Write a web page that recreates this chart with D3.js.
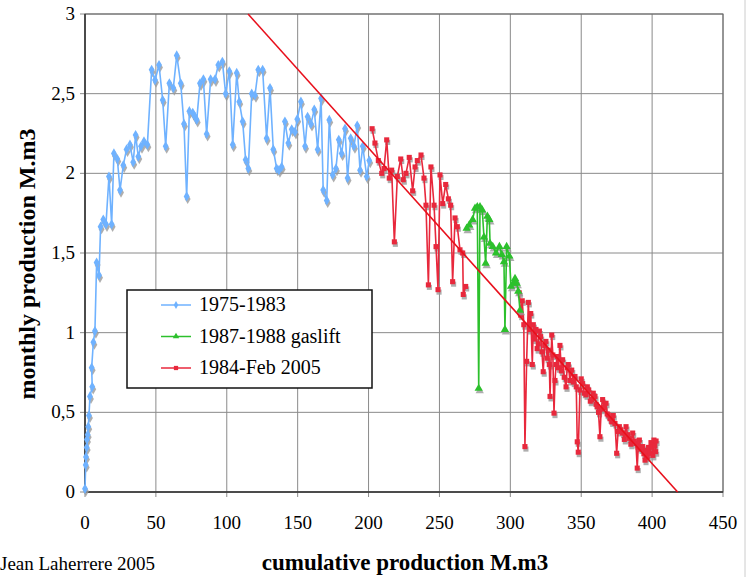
<!DOCTYPE html>
<html>
<head>
<meta charset="utf-8">
<script src="https://cdn.jsdelivr.net/npm/d3@7"></script>
<style>
  body { margin: 0; background: #fff; }
  svg text { font-family: "Liberation Serif", "Times New Roman", Times, "DejaVu Serif", serif; }
</style>
</head>
<body>
<div id="chart"></div>
<script>
// x = cumulative production (M.m3), y = monthly production (M.m3)
const xTicks = [0, 50, 100, 150, 200, 250, 300, 350, 400, 450];
const yTicks = [0, 0.5, 1, 1.5, 2, 2.5, 3];

const blue = [
  [0, 0.02], [0.5, 0.17], [0.7, 0.22], [1.2, 0.28], [1.4, 0.33], [1.9, 0.36], [2.3, 0.41],
  [2.8, 0.48], [3.5, 0.60], [5.1, 0.66], [4.7, 0.78], [5.9, 0.94], [7, 1.01], [8.2, 1.44],
  [9.9, 1.36], [11, 1.665], [12.9, 1.71], [14.8, 1.68], [16.9, 1.98], [18.8, 1.68],
  [20.4, 2.125], [22.8, 2.09], [24.7, 1.895], [27, 2.05], [29.3, 2.15], [31.7, 2.18],
  [34, 2.07], [35.7, 2.24], [37.6, 2.105], [39.5, 2.17], [41.6, 2.2], [44, 2.18],
  [47, 2.65], [49.4, 2.585], [52.2, 2.68], [54.8, 2.46], [56.9, 2.17], [59.5, 2.565],
  [62.3, 2.535], [64.7, 2.74], [67.5, 2.565], [69.8, 2.31], [71.7, 1.855], [73.6, 2.39],
  [76, 2.38], [77.6, 2.355], [78.8, 2.335], [81.1, 2.565], [83.5, 2.59], [85.8, 2.247],
  [88.6, 2.59], [91.7, 2.59], [94, 2.68], [96.9, 2.70], [99.2, 2.50], [101.8, 2.64],
  [104.2, 2.18], [107, 2.63], [108.8, 2.45], [111.2, 2.325], [113.3, 2.085], [115.2, 2.03],
  [117.6, 2.50], [119.9, 2.49], [122.2, 2.65], [125.3, 2.65], [128.1, 2.22], [130.5, 2.535],
  [132.8, 2.15], [135.2, 2.03], [136.8, 2.02], [138.7, 2.04], [141, 2.325], [143.4, 2.19],
  [145.8, 2.276], [148.1, 2.26], [149.7, 2.34], [152.3, 2.45], [155.2, 2.17], [157, 2.355],
  [159.4, 2.31], [161.7, 2.40], [164.1, 2.15], [166.5, 2.47], [168, 1.895], [170.5, 1.83],
  [172.3, 2.335], [174.7, 1.99], [177, 2.03], [179, 2.21], [181, 2.125], [183.4, 2.28],
  [185.2, 1.97], [187.4, 2.22], [189.7, 2.17], [192, 2.30], [194, 2.02], [195.9, 2.17],
  [198.7, 1.98], [200.5, 2.08]
];

const green = [
  [269.2, 1.655], [271, 1.675], [273.4, 1.71], [275.1, 1.78], [276.7, 1.79], [277.7, 0.65],
  [278.6, 1.79], [280.2, 1.77], [281.4, 1.60], [282.6, 1.435], [283.8, 1.73], [285.2, 1.71],
  [285.7, 1.56], [287.6, 1.54], [289.9, 1.50], [292.3, 1.54], [294, 1.49], [295.5, 1.445],
  [296.2, 1.02], [297.4, 1.54], [299.3, 1.48], [300.5, 1.29], [302.1, 1.31], [303.3, 1.34],
  [304.5, 1.31], [305.6, 1.26], [306.8, 1.14]
];

// 1984-1987, before the gaslift months
const redA = [
  [202.5, 2.28], [204.5, 2.19], [206.9, 2.08], [209.3, 2.0], [210.9, 2.03], [212.8, 2.21],
  [214.6, 1.97], [216.3, 2.02], [218.2, 1.57], [220.3, 1.98], [222.7, 2.09], [224.5, 1.96],
  [226.4, 2.0], [228.7, 2.10], [231.1, 1.89], [232.8, 2.04], [234.4, 2.08], [237, 2.115],
  [239.1, 1.97], [240.5, 1.80], [242.2, 1.30], [244, 2.04], [246.2, 1.80], [247.6, 1.54],
  [249, 1.27], [250.4, 1.99], [252.3, 1.81], [254.4, 1.93], [256.3, 1.84], [257.9, 1.80],
  [259.3, 1.32], [261, 1.72], [262.6, 1.665], [264.5, 1.52], [266.4, 1.50], [266.8, 1.24],
  [268.5, 1.29]
];

// 1988-Feb 2005
const redB = [
  [306.3, 1.25], [307.3, 1.11], [308.4, 1.20], [309.5, 1.05], [310.3, 0.285], [311.5, 0.82],
  [312.7, 1.19], [313.5, 1.02], [314.4, 1.12], [315.5, 0.80], [316.2, 1.05], [317.2, 0.96],
  [318.1, 1.02], [318.9, 0.90], [319.7, 0.93], [320.5, 1.01], [321.4, 0.975], [322.3, 0.88],
  [323.2, 0.755], [324.2, 0.92], [325.1, 0.945], [326, 0.84], [326.8, 0.89], [327.5, 0.80],
  [328, 0.60], [329.2, 0.985], [330, 0.86], [330.8, 0.495], [331.5, 0.70], [332.3, 0.80],
  [333.1, 0.85], [334, 0.78], [335, 0.92], [336, 0.76], [336.9, 0.83], [338, 0.72],
  [339.3, 0.66], [340.1, 0.78], [340.9, 0.80], [342, 0.70], [343.3, 0.765], [344.4, 0.69],
  [345.6, 0.725], [346.5, 0.66], [347.2, 0.315], [347.9, 0.25], [349.1, 0.64], [350, 0.71],
  [351, 0.68], [352.2, 0.62], [353.4, 0.61], [354.3, 0.66], [355.3, 0.64], [356.4, 0.57],
  [357.4, 0.58], [358.5, 0.62], [359.7, 0.60], [360.5, 0.55], [361.3, 0.535], [362.2, 0.50],
  [363.2, 0.347], [364.1, 0.52], [365.1, 0.58], [366.3, 0.53], [367.5, 0.557], [368.3, 0.49],
  [369.1, 0.483], [370.3, 0.46], [371.5, 0.44], [372.6, 0.48], [373.8, 0.43], [375, 0.243],
  [376, 0.38], [376.9, 0.41], [378, 0.39], [379.2, 0.37], [380.4, 0.33], [381.6, 0.41],
  [382.8, 0.36], [383.9, 0.337], [385, 0.30], [386.3, 0.37], [387.5, 0.32], [388.6, 0.305],
  [389.5, 0.15], [390.2, 0.28], [391, 0.326], [392.2, 0.27], [393.4, 0.285], [394.2, 0.24],
  [395, 0.20], [395.8, 0.26], [396.6, 0.22], [397.5, 0.28], [398.5, 0.243], [399.2, 0.31],
  [399.7, 0.285], [400.5, 0.23], [401.3, 0.326], [401.9, 0.29], [402.5, 0.253], [402.8, 0.32]
];

const trend = [[115, 3], [418, 0]];

const legendLabels = ['1975-1983', '1987-1988 gaslift', '1984-Feb 2005'];

const width = 755, height = 577;
const margin = { left: 85, right: 32, top: 14, bottom: 85 };
const serif = '"Liberation Serif", "Times New Roman", Times, "DejaVu Serif", serif';

const svg = d3.select('#chart')
  .append('svg')
  .attr('width', width)
  .attr('height', height)
  .attr('font-family', serif);

const x = d3.scaleLinear().domain([0, 450]).range([margin.left, width - margin.right]);
const y = d3.scaleLinear().domain([0, 3]).range([height - margin.bottom, margin.top]);

// faint outer frame on the right
svg.append('line')
  .attr('x1', 745).attr('x2', 745).attr('y1', 0).attr('y2', height)
  .style('stroke', '#ccc').style('stroke-width', 1);

const grid = svg.append('g');
grid.selectAll('line.h').data(yTicks).enter().append('line')
  .attr('x1', x(0) - 5).attr('x2', x(450))
  .attr('y1', d => y(d)).attr('y2', d => y(d))
  .style('stroke', '#8a8a8a').style('stroke-width', 1);
grid.selectAll('line.v').data(xTicks).enter().append('line')
  .attr('x1', d => x(d)).attr('x2', d => x(d))
  .attr('y1', y(3)).attr('y2', y(0) + 5)
  .style('stroke', '#8a8a8a').style('stroke-width', 1);

// plot frame
svg.append('rect')
  .attr('x', x(0)).attr('y', y(3))
  .attr('width', x(450) - x(0)).attr('height', y(0) - y(3))
  .style('fill', 'none').style('stroke', '#666').style('stroke-width', 1);
svg.append('line')
  .attr('x1', x(0)).attr('x2', x(0)).attr('y1', y(3)).attr('y2', y(0))
  .style('stroke', '#333').style('stroke-width', 1.5);
svg.append('line')
  .attr('x1', x(0)).attr('x2', x(450)).attr('y1', y(0)).attr('y2', y(0))
  .style('stroke', '#333').style('stroke-width', 1.5);

// tick labels
svg.selectAll('text.yt').data(yTicks).enter().append('text')
  .attr('x', x(0) - 10).attr('y', d => y(d) + 6)
  .attr('text-anchor', 'end')
  .style('font-family', serif)
  .style('font-size', '19px')
  .text(d => String(d).replace('.', ','));
svg.selectAll('text.xt').data(xTicks).enter().append('text')
  .attr('x', d => x(d)).attr('y', y(0) + 37)
  .attr('text-anchor', 'middle')
  .style('font-family', serif)
  .style('font-size', '19px')
  .text(d => d);

// axis titles
svg.append('text')
  .attr('transform', `translate(35, 264) rotate(-90)`)
  .attr('text-anchor', 'middle')
  .style('font-family', serif)
  .style('font-size', '24px').style('font-weight', 'bold')
  .text('monthly production M.m3');
svg.append('text')
  .attr('x', 405).attr('y', 570)
  .attr('text-anchor', 'middle')
  .style('font-family', serif)
  .style('font-size', '23px').style('font-weight', 'bold')
  .text('cumulative production M.m3');
svg.append('text')
  .attr('x', 0).attr('y', 570)
  .style('font-family', serif)
  .style('font-size', '19px')
  .text('Jean Laherrere 2005');

const line = d3.line().x(d => x(d[0])).y(d => y(d[1]));

const markerPath = {
  diamond: d3.symbol().type(d3.symbolDiamond).size(30),
  triangle: d3.symbol().type(d3.symbolTriangle).size(30),
  square: d3.symbol().type(d3.symbolSquare).size(26)
};

const plot = svg.append('g');

function drawSeries(data, color, shape) {
  // grey drop shadow under the markers
  plot.append('g').selectAll('path').data(data).enter().append('path')
    .attr('d', markerPath[shape])
    .attr('transform', d => `translate(${x(d[0]) + 1},${y(d[1]) + 2.5})`)
    .style('fill', '#9a9a9a').style('opacity', 0.8);
  plot.append('path').datum(data)
    .attr('d', line)
    .style('fill', 'none').style('stroke', color).style('stroke-width', 1.6);
  plot.append('g').selectAll('path').data(data).enter().append('path')
    .attr('d', markerPath[shape])
    .attr('transform', d => `translate(${x(d[0])},${y(d[1])})`)
    .style('fill', color);
}

drawSeries(blue, '#6fb2ff', 'diamond');
drawSeries(redA, '#e8283c', 'square');
drawSeries(redB, '#e8283c', 'square');
drawSeries(green, '#2cc02c', 'triangle');

// linear trend
plot.append('path').datum(trend)
  .attr('d', line)
  .style('fill', 'none').style('stroke', '#e8101c').style('stroke-width', 1.6);

// legend
const lg = svg.append('g').attr('transform', 'translate(127,290)');
lg.append('rect')
  .attr('width', 245).attr('height', 98)
  .style('fill', '#fff').style('stroke', '#111').style('stroke-width', 1.5);
const legendItems = [
  { label: legendLabels[0], color: '#6fb2ff', shape: d3.symbolDiamond },
  { label: legendLabels[1], color: '#2cc02c', shape: d3.symbolTriangle },
  { label: legendLabels[2], color: '#e8283c', shape: d3.symbolSquare }
];
const row = lg.selectAll('g.row').data(legendItems).enter().append('g')
  .attr('transform', (d, i) => `translate(0, ${15 + i * 31.5})`);
row.append('line')
  .attr('x1', 34).attr('x2', 64)
  .style('stroke', d => d.color).style('stroke-width', 1.5);
row.append('path')
  .attr('d', d => d3.symbol().type(d.shape).size(18)())
  .attr('transform', 'translate(49,0)')
  .style('fill', d => d.color);
row.append('text')
  .attr('x', 72).attr('y', 6)
  .style('font-family', serif)
  .style('font-size', '20px')
  .text(d => d.label);
</script>
</body>
</html>
